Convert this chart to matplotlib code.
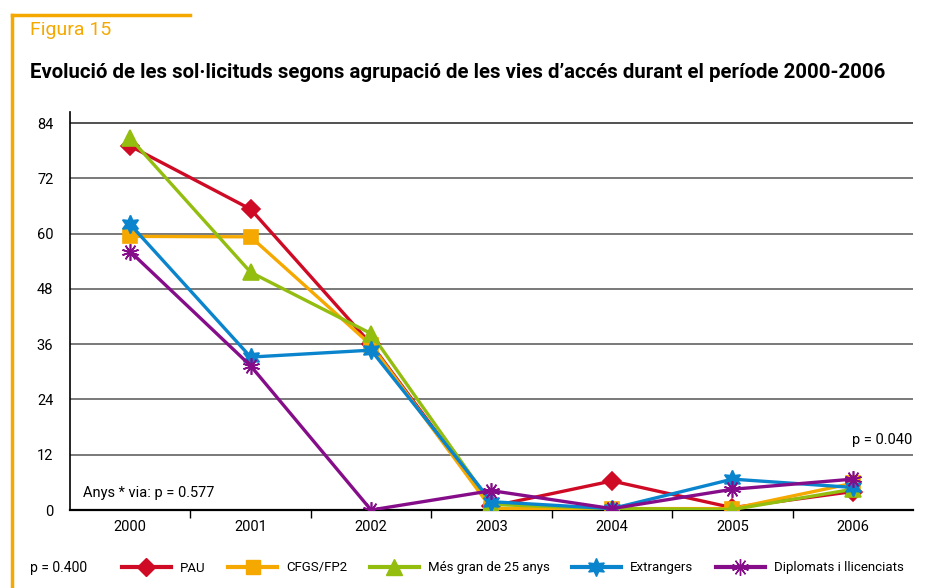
import matplotlib
matplotlib.use("Agg")
import matplotlib.pyplot as plt
from matplotlib.lines import Line2D

plt.rcParams['font.family'] = ['Roboto', 'DejaVu Sans']

years = ['2000', '2001', '2002', '2003', '2004', '2005', '2006']
pau = [79.0, 65.3, 36.0, 0.8, 6.3, 0.5, 4.0]
cfgs = [59.4, 59.3, 35.8, 0.3, 0.3, 0.3, 5.8]
mes25 = [80.7, 51.6, 38.3, 1.2, 0.3, 0.1, 4.5]
extr = [62.0, 33.2, 34.7, 1.8, 0.3, 6.7, 4.9]
dipl = [56.1, 31.3, 0.0, 4.2, 0.3, 4.5, 6.7]
labels = ['PAU', 'CFGS/FP2', 'Més gran de 25 anys', 'Extrangers', 'Diplomats i llicenciats']
yticks = [0, 12, 24, 36, 48, 60, 72, 84]

colors = ['#CE0A24', '#F5A800', '#93BD0F', '#0A84CC', '#860D8A']
markers = ['D', 's', '^', (6, 1, 0), (10, 2, 0)]
msizes = [9, 10, 12, 13, 12]

fig = plt.figure(figsize=(9.26, 5.88), dpi=100)
ax = fig.add_axes([70/926, 1-510/588, (913-70)/926, (510-112)/588])
x = list(range(len(years)))
series = [pau, cfgs, mes25, extr, dipl]
handles = []
for s, c, m, ms, lab in zip(series, colors, markers, msizes, labels):
    ax.plot(x, s, color=c, lw=2.4, marker=m, ms=ms, mec=c, mfc=c, mew=1.2, zorder=3)
    handles.append(Line2D([], [], color=c, lw=3, marker=m, ms=ms, mec=c, mfc=c, label=lab))

ax.set_xlim(-0.5, 6.5)
ax.set_ylim(0, 86.4)
ax.set_yticks(yticks)
for t in yticks[1:]:
    ax.axhline(t, color='#222222' if t == 84 else '#555555', lw=1.1, zorder=1)
ax.tick_params(axis='y', length=0, labelsize=10.5, pad=12)
ax.set_xticks(x)
ax.set_xticklabels(years)
ax.set_xticks([i + 0.5 for i in range(6)], minor=True)
ax.tick_params(axis='x', which='major', length=0, labelsize=10.5, pad=7)
ax.tick_params(axis='x', which='minor', length=6, width=1, direction='out', color='black')
for sp in ['top', 'right']:
    ax.spines[sp].set_visible(False)
ax.spines['left'].set_linewidth(1.2)
ax.spines['bottom'].set_linewidth(1.6)

ax.text(-0.39, 3.6, 'Anys * via: p = 0.577', fontsize=10.5, va='center', ha='left')
ax.text(6.49, 15.3, 'p = 0.040', fontsize=10.5, va='center', ha='right')

fig.text(30/926, 1-30/588, 'Figura 15', color='#F5A800', fontsize=14, va='center', ha='left')
fig.text(30/926, 1-72/588, "Evolució de les sol·licituds segons agrupació de les vies d’accés durant el període 2000-2006",
         fontsize=14.7, fontweight='bold', va='center', ha='left')
fig.text(30/926, 1-568/588, 'p = 0.400', fontsize=10, va='center', ha='left')

fig.legend(handles=handles, loc='center left', bbox_to_anchor=(122/926, 1-568/588), ncol=5, frameon=False,
           fontsize=9.5, handlelength=3.7, handletextpad=0.7, columnspacing=1.7, borderpad=0, borderaxespad=0)

# orange frame
fig.add_artist(Line2D([12/926, 12/926], [0, 1-15/588], color='#F5A800', lw=2.5))
fig.add_artist(Line2D([12/926, 190/926], [1-15/588, 1-15/588], color='#F5A800', lw=2.5))

fig.savefig('out.png', dpi=100)
